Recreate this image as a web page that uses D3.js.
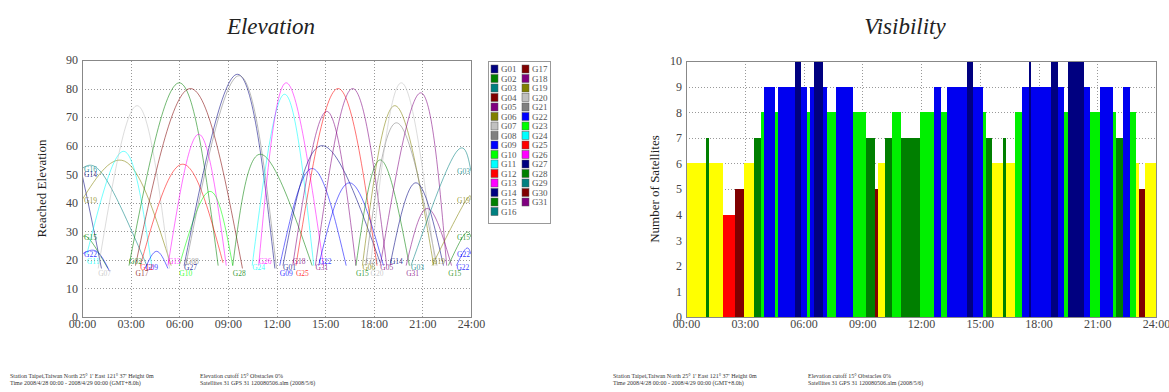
<!DOCTYPE html>
<html>
<head>
<meta charset="utf-8">
<script src="https://cdn.jsdelivr.net/npm/d3@7"></script>
<style>
  html, body { margin: 0; padding: 0; background: #fff; }
  svg { display: block; font-family: 'Liberation Serif', 'DejaVu Serif', serif; }
</style>
</head>
<body>
<svg id="chart" width="1169" height="392"></svg>
<script>
// ---- data ----
const hourTicks = ['00:00', '03:00', '06:00', '09:00', '12:00', '15:00', '18:00', '21:00', '24:00']
const elevTicks = [0, 10, 20, 30, 40, 50, 60, 70, 80, 90]
const countTicks = [0, 1, 2, 3, 4, 5, 6, 7, 8, 9, 10]

const satNames = ['G01', 'G02', 'G03', 'G04', 'G05', 'G06', 'G07', 'G08', 'G09', 'G10', 'G11', 'G12', 'G13', 'G14', 'G15', 'G16',
  'G17', 'G18', 'G19', 'G20', 'G21', 'G22', 'G23', 'G24', 'G25', 'G26', 'G27', 'G28', 'G29', 'G30', 'G31']
const satColors = ['#000080', '#008000', '#008080', '#800000', '#800080', '#808000', '#c0c0c0', '#808080', '#0000ff', '#00ff00',
  '#00ffff', '#ff0000', '#ff00ff', '#000080', '#008000', '#008080', '#800000', '#800080', '#808000', '#c0c0c0', '#808080',
  '#0000ff', '#00ff00', '#00ffff', '#ff0000', '#ff00ff', '#000080', '#008000', '#008080', '#800000', '#800080']

// each pass: satellite, [hour, elevation] read at rise, top and set
const passSats = ['G16', 'G14', 'G19', 'G15', 'G22', 'G11', 'G07', 'G09', 'G02', 'G17', 'G12', 'G13', 'G10', 'G27', 'G08',
  'G28', 'G24', 'G26', 'G09', 'G01', 'G18', 'G25', 'G31', 'G22', 'G15', 'G06', 'G21', 'G20', 'G05', 'G14', 'G31', 'G03',
  'G19', 'G15', 'G22']
const passTracks = [
  [[0, 52], [1.4, 49], [4.0, 18]],
  [[0, 50], [0.6, 34], [1.2, 17]],
  [[0, 41], [2.8, 54], [5.5, 18]],
  [[0, 28], [0.5, 27], [1.6, 17]],
  [[0, 22], [0.9, 23], [1.7, 16]],
  [[0.3, 22], [2.6, 58], [4.3, 18]],
  [[1.0, 17], [3.4, 74], [5.4, 17]],
  [[3.9, 17], [4.6, 23], [5.3, 17]],
  [[2.9, 18], [6.0, 82], [8.4, 18]],
  [[3.3, 18], [6.7, 80], [9.9, 17]],
  [[3.6, 18], [6.2, 53.5], [8.7, 19]],
  [[5.3, 18], [7.2, 64], [8.9, 18]],
  [[6.0, 18], [7.9, 44], [9.3, 18]],
  [[6.3, 18], [9.6, 85], [11.9, 17]],
  [[6.4, 18], [9.7, 84.5], [12.0, 17]],
  [[9.3, 18], [11.0, 57], [14.2, 18]],
  [[10.5, 18], [12.5, 78], [14.3, 18]],
  [[10.9, 18], [12.6, 82], [14.9, 18]],
  [[12.2, 18], [14.2, 52], [16.3, 18]],
  [[12.4, 18], [14.8, 60], [18.4, 19]],
  [[13.0, 18], [15.1, 72], [16.9, 18]],
  [[13.2, 18], [15.8, 80], [18.2, 18]],
  [[14.4, 18], [16.7, 80], [18.8, 18]],
  [[14.6, 18], [16.5, 47], [18.6, 18]],
  [[16.9, 18], [18.4, 55], [20.2, 18]],
  [[17.3, 18], [19.3, 74], [21.7, 18]],
  [[17.5, 18], [19.4, 68], [21.9, 18]],
  [[17.8, 18], [19.7, 82], [21.8, 18]],
  [[18.4, 18], [20.9, 78.5], [22.5, 18]],
  [[19.0, 18], [20.6, 47], [22.3, 18]],
  [[20.0, 18], [21.3, 38], [22.8, 18]],
  [[20.3, 18], [23.0, 57], [24, 51]],
  [[21.6, 18], [23.6, 40], [24, 41]],
  [[22.6, 18], [23.6, 29], [24, 28]],
  [[23.1, 18], [23.7, 24], [24, 22]]
]

// visibility: segment start hour and number of satellites (segment ends at next start)
const visStart = [0, 1.02, 1.19, 1.87, 2.50, 2.98, 3.49, 3.83, 4.00, 4.55, 4.68, 5.57, 5.86, 6.16, 6.33, 6.54, 7.02, 7.19,
  7.66, 8.51, 9.19, 9.65, 9.79, 10.16, 10.50, 10.98, 11.97, 12.65, 13.02, 13.33, 14.35, 14.66, 15.17, 15.32, 15.63, 16.17,
  16.34, 16.82, 17.16, 17.50, 17.64, 18.64, 18.98, 19.32, 19.49, 20.34, 20.63, 21.14, 21.82, 21.96, 22.30, 22.68, 22.98,
  23.15, 23.44]
const visCount = [6, 7, 6, 4, 5, 6, 7, 8, 9, 8, 9, 10, 9, 8, 9, 10, 9, 8,
  9, 8, 7, 5, 6, 7, 8, 7, 8, 9, 8, 9, 10, 9, 8, 7, 6, 7,
  6, 8, 9, 10, 9, 10, 9, 8, 10, 9, 8, 9, 8, 7, 9, 8, 6,
  5, 6]
const countColors = { 4: '#ff0000', 5: '#800000', 6: '#ffff00', 7: '#007f00', 8: '#00f000', 9: '#0000f0', 10: '#000080' }

const noteLeft = ['Station Taipei,Taiwan   North 25\u00b0 1\'   East 121\u00b0 37\'   Height 0m',
  'Time 2008/4/28 00:00 - 2008/4/29 00:00 (GMT+8.0h)']
const noteRight = ['Elevation cutoff 15\u00b0   Obstacles 0%', 'Satellites 31   GPS 31   120080506.alm (2008/5/6)']

// ---- drawing ----
const svg = d3.select('#chart')

function frame(g, x, y, yTicks) {
  const [x0, x1] = x.range()
  const [y0, y1] = y.range()
  g.append('g').selectAll('line.h')
    .data(yTicks.slice(1, -1))
    .enter().append('line')
    .attr('x1', x0).attr('x2', x1)
    .attr('y1', d => Math.round(y(d)) + 0.5).attr('y2', d => Math.round(y(d)) + 0.5)
    .attr('stroke', '#999').attr('stroke-dasharray', '1,2')
  g.append('g').selectAll('line.v')
    .data(d3.range(1, hourTicks.length - 1))
    .enter().append('line')
    .attr('x1', d => Math.round(x(d * 3)) + 0.5).attr('x2', d => Math.round(x(d * 3)) + 0.5)
    .attr('y1', y0).attr('y2', y1)
    .attr('stroke', '#999').attr('stroke-dasharray', '1,2')
}

function axes(g, x, y, yTicks) {
  const [y0] = y.range()
  g.append('g')
    .attr('transform', `translate(0,${y0})`)
    .call(d3.axisBottom(x).tickValues(d3.range(0, 25, 3)).tickFormat((d, i) => hourTicks[i]).tickSize(0).tickPadding(2))
    .call(a => a.select('.domain').remove())
    .selectAll('text').attr('font-size', 12).attr('font-family', 'Liberation Serif').attr('fill', '#444')
  g.append('g')
    .attr('transform', `translate(${x.range()[0]},0)`)
    .call(d3.axisLeft(y).tickValues(yTicks).tickSize(0).tickPadding(4))
    .call(a => a.select('.domain').remove())
    .selectAll('text').attr('font-size', 12).attr('font-family', 'Liberation Serif').attr('fill', '#444')
}

function border(g, x, y) {
  const [x0, x1] = x.range()
  const [y0, y1] = y.range()
  g.append('rect')
    .attr('x', x0 + 0.5).attr('y', y1 + 0.5)
    .attr('width', x1 - x0).attr('height', y0 - y1)
    .attr('fill', 'none').attr('stroke', '#888')
}

// Elevation
const xE = d3.scaleLinear().domain([0, 24]).range([82, 471])
const yE = d3.scaleLinear().domain([0, 90]).range([317, 60])
const gE = svg.append('g')

frame(gE, xE, yE, elevTicks)

svg.append('clipPath').attr('id', 'clipE')
  .append('rect').attr('x', xE(0)).attr('y', yE(90)).attr('width', xE(24) - xE(0)).attr('height', yE(0) - yE(90))

const colorOf = name => satColors[satNames.indexOf(name)]
const line = d3.line().x(d => xE(d[0])).y(d => yE(d[1])).curve(d3.curveNatural)

gE.append('g').attr('clip-path', 'url(#clipE)')
  .selectAll('path')
  .data(passTracks)
  .enter().append('path')
  .attr('d', line)
  .attr('fill', 'none')
  .attr('stroke', (d, i) => colorOf(passSats[i]))
  .attr('stroke-width', 1)
  .attr('stroke-opacity', 0.55)

// satellite labels at the start of each track, staggered a little in the low band
gE.append('g')
  .attr('font-size', 7.5)
  .selectAll('text')
  .data(passTracks)
  .enter().append('text')
  .attr('x', d => xE(d[0][0]) + (d[0][0] === 0 ? 2 : 0))
  .attr('y', (d, i) => d[0][0] === 0 ? yE(d[0][1]) + 3 : yE(14.5 + (i % 3) * 2))
  .attr('fill', (d, i) => colorOf(passSats[i]))
  .attr('fill-opacity', 0.8)
  .text((d, i) => passSats[i])

// labels at the right edge for tracks still up at 24:00
gE.append('g')
  .attr('font-size', 7.5)
  .attr('text-anchor', 'end')
  .selectAll('text')
  .data(passTracks.filter(d => d[d.length - 1][0] === 24))
  .enter().append('text')
  .attr('x', xE(24) - 1)
  .attr('y', d => yE(d[d.length - 1][1]) + 3)
  .attr('fill', d => colorOf(passSats[passTracks.indexOf(d)]))
  .attr('fill-opacity', 0.8)
  .text(d => passSats[passTracks.indexOf(d)])

border(gE, xE, yE)
axes(gE, xE, yE, elevTicks)

gE.append('text')
  .attr('x', 271).attr('y', 34)
  .attr('text-anchor', 'middle')
  .attr('font-size', 23).attr('font-style', 'italic').attr('fill', '#222')
  .text('Elevation')

gE.append('text')
  .attr('transform', `translate(46,${(yE(0) + yE(90)) / 2}) rotate(-90)`)
  .attr('text-anchor', 'middle')
  .attr('font-size', 13).attr('fill', '#222')
  .text('Reached Elevation')

// legend
const legend = svg.append('g').attr('transform', 'translate(488,61)')
legend.append('rect')
  .attr('x', 0.5).attr('y', 0.5).attr('width', 62).attr('height', 162)
  .attr('fill', '#fff').attr('stroke', '#999')

const entry = legend.selectAll('g')
  .data(satNames)
  .enter().append('g')
  .attr('transform', (d, i) => `translate(${i < 16 ? 3 : 34},${4 + (i % 16) * 9.5})`)

entry.append('rect')
  .attr('width', 7).attr('height', 8)
  .attr('fill', (d, i) => satColors[i])
  .attr('stroke', '#555').attr('stroke-width', 0.5)

entry.append('text')
  .attr('x', 10).attr('y', 7)
  .attr('font-size', 9).attr('fill', '#555')
  .text(d => d)

// Visibility
const xV = d3.scaleLinear().domain([0, 24]).range([686, 1156])
const yV = d3.scaleLinear().domain([0, 10]).range([317, 61])
const gV = svg.append('g')

frame(gV, xV, yV, countTicks)

gV.append('g')
  .attr('shape-rendering', 'crispEdges')
  .selectAll('rect')
  .data(visStart)
  .enter().append('rect')
  .attr('x', d => xV(d))
  .attr('width', (d, i) => xV(i + 1 < visStart.length ? visStart[i + 1] : 24) - xV(d))
  .attr('y', (d, i) => yV(visCount[i]))
  .attr('height', (d, i) => yV(0) - yV(visCount[i]))
  .attr('fill', (d, i) => countColors[visCount[i]])

border(gV, xV, yV)
axes(gV, xV, yV, countTicks)

gV.append('text')
  .attr('x', 905).attr('y', 34)
  .attr('text-anchor', 'middle')
  .attr('font-size', 23).attr('font-style', 'italic').attr('fill', '#222')
  .text('Visibility')

gV.append('text')
  .attr('transform', `translate(659,${(yV(0) + yV(10)) / 2}) rotate(-90)`)
  .attr('text-anchor', 'middle')
  .attr('font-size', 13).attr('fill', '#222')
  .text('Number of Satellites')

// footnotes
function notes(x, lines) {
  svg.append('g')
    .attr('font-size', 6).attr('fill', '#333')
    .selectAll('text')
    .data(lines)
    .enter().append('text')
    .attr('x', x).attr('y', (d, i) => 378 + i * 7)
    .text(d => d)
}
notes(10, noteLeft)
notes(200, noteRight)
notes(613, noteLeft)
notes(808, noteRight)
</script>
</body>
</html>
